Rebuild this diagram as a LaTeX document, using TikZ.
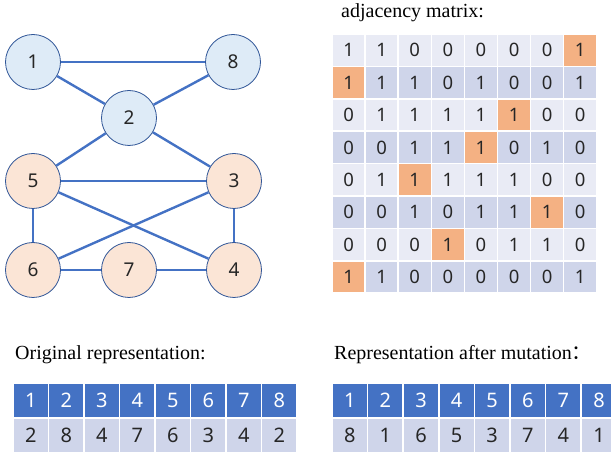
\documentclass[tikz,border=0pt]{standalone}
\usepackage{fontspec}
\setmainfont{Liberation Serif}
\newfontfamily\numfont{Noto Sans}
\newfontfamily\cjk{Noto Sans CJK SC}
\usetikzlibrary{positioning}

\definecolor{edgeblue}{HTML}{4472C4}
\definecolor{ringblue}{HTML}{2F5597}
\definecolor{vtxblue}{HTML}{DEEBF7}
\definecolor{vtxpeach}{HTML}{FBE5D6}
\definecolor{rowlight}{HTML}{E9EBF5}
\definecolor{rowdark}{HTML}{CFD5EA}
\definecolor{hot}{HTML}{F4B183}

\begin{document}
\begin{tikzpicture}[x=1pt, y=-1pt]
		\tikzstyle{vtx} = [circle, draw=ringblue, line width=0.8pt, minimum size=55pt, inner sep=0pt, font=\numfont\fontsize{19}{19}\selectfont, text=black!85]
		\tikzstyle{bluevtx} = [vtx, fill=vtxblue]
		\tikzstyle{peachvtx} = [vtx, fill=vtxpeach]
		\tikzstyle{edge} = [edgeblue, line width=2.4pt]
		\tikzstyle{title} = [anchor=west, inner sep=0pt, font=\fontsize{20}{20}\selectfont]
		\tikzstyle{cell} = [rectangle, draw=white, line width=1.5pt, inner sep=0pt, minimum width=33.1pt, minimum height=32.4pt, font=\numfont\fontsize{18.5}{18.5}\selectfont, text=black!85]
		\tikzstyle{rowA} = [fill=rowlight]
		\tikzstyle{rowB} = [fill=rowdark]
		\tikzstyle{hotcell} = [fill=hot]
		\tikzstyle{headcell} = [cell, fill=edgeblue, text=white, minimum width=35.5pt, minimum height=34pt, font=\numfont\fontsize{20}{20}\selectfont]
		\tikzstyle{bodycell} = [cell, fill=rowdark, minimum width=35.5pt, minimum height=34pt, font=\numfont\fontsize{20}{20}\selectfont]

		\useasboundingbox (0,0) rectangle (611,454);
		\clip (0,0) rectangle (611,454);

		% graph
		\node[bluevtx] (n1) at (33,62) {1};
		\node[bluevtx] (n8) at (233,62) {8};
		\node[bluevtx] (n2) at (129,118) {2};
		\node[peachvtx] (n5) at (33,181) {5};
		\node[peachvtx] (n3) at (234,181) {3};
		\node[peachvtx] (n6) at (33,270) {6};
		\node[peachvtx] (n7) at (129,270) {7};
		\node[peachvtx] (n4) at (234,270) {4};

		\draw[edge] (n1) -- (n8);
		\draw[edge] (n1) -- (n2);
		\draw[edge] (n2) -- (n8);
		\draw[edge] (n2) -- (n5);
		\draw[edge] (n2) -- (n3);
		\draw[edge] (n5) -- (n3);
		\draw[edge] (n5) -- (n6);
		\draw[edge] (n5) -- (n4);
		\draw[edge] (n3) -- (n6);
		\draw[edge] (n3) -- (n4);
		\draw[edge] (n6) -- (n7);
		\draw[edge] (n7) -- (n4);

		% adjacency matrix
		\node[title] (adjtitle) at (341,13) {adjacency matrix:};
		\foreach \row/\hot [count=\r] in {{1,1,0,0,0,0,0,1}/8, {1,1,1,0,1,0,0,1}/1, {0,1,1,1,1,1,0,0}/6, {0,0,1,1,1,0,1,0}/5, {0,1,1,1,1,1,0,0}/3, {0,0,1,0,1,1,1,0}/7, {0,0,0,1,0,1,1,0}/4, {1,1,0,0,0,0,0,1}/1}
		{
			\foreach \v [count=\c] in \row {
				\ifnum\c=\hot \def\sty{hotcell}\else\ifodd\r \def\sty{rowA}\else\def\sty{rowB}\fi\fi
				\node[cell, \sty] (m-\r-\c) at ({332+(\c-0.5)*33.1}, {34+(\r-0.5)*32.4}) {\v};
			}
		}

		% original representation
		\node[title] (origtitle) at (15,355) {Original representation:};
		\foreach \v [count=\c] in {2,8,4,7,6,3,4,2} {
			\node[headcell] (o-h-\c) at ({13+(\c-0.5)*35.5}, 400.5) {\c};
			\node[bodycell] (o-v-\c) at ({13+(\c-0.5)*35.5}, 435.5) {\v};
		}

		% after mutation
		\node[title] (muttitle) at (334,355) {Representation after mutation{\cjk ：}};
		\foreach \v [count=\c] in {8,1,6,5,3,7,4,1} {
			\node[headcell, minimum width=35.6pt] (r-h-\c) at ({332+(\c-0.5)*35.6}, 400.5) {\c};
			\node[bodycell, minimum width=35.6pt] (r-v-\c) at ({332+(\c-0.5)*35.6}, 435.5) {\v};
		}
	\end{tikzpicture}
\end{document}
